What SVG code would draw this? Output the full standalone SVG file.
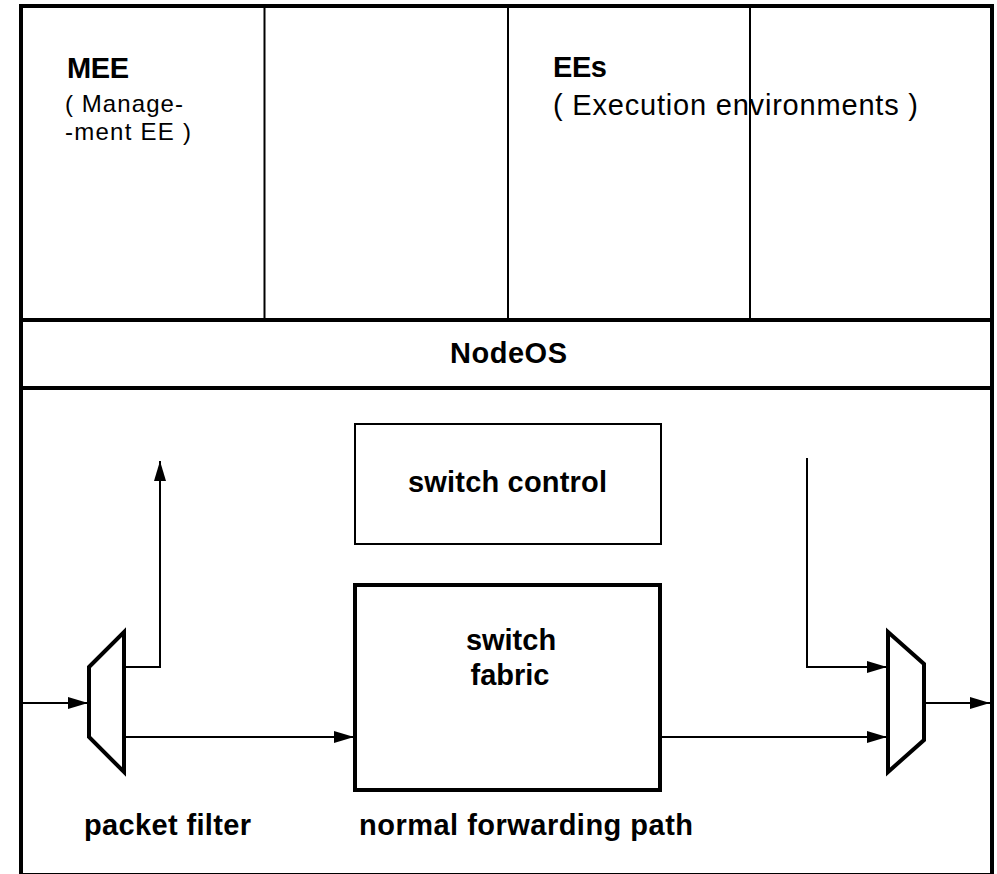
<svg xmlns="http://www.w3.org/2000/svg" width="997" height="874" viewBox="0 0 997 874">
<style>
.frame{fill:none;stroke:#000;stroke-width:4}
.thin{fill:none;stroke:#000;stroke-width:2}
.conn{fill:none;stroke:#000;stroke-width:2}
.b{font-family:"Liberation Sans",Arial,sans-serif;font-weight:bold;font-size:29px;fill:#000}
.r{font-family:"Liberation Sans",Arial,sans-serif;font-size:29px;fill:#000}
.s{font-family:"Liberation Sans",Arial,sans-serif;font-size:24px;fill:#000}
</style>
<defs>
<marker id="ah" markerUnits="userSpaceOnUse" markerWidth="22" markerHeight="16" refX="20" refY="7" orient="auto">
<path d="M0,1 L20,7 L0,13 Z" fill="#000"/>
</marker>
</defs>
<rect fill="#fff" x="0" y="0" width="997" height="874"/>
<g id="frame">
<rect class="frame" x="21" y="6" width="971" height="869"/>
<line class="frame" x1="21" y1="320" x2="992" y2="320"/>
<line class="frame" x1="21" y1="388" x2="992" y2="388"/>
<line class="thin" x1="264.5" y1="6" x2="264.5" y2="320"/>
<line class="thin" x1="508" y1="6" x2="508" y2="320"/>
<line class="thin" x1="750" y1="6" x2="750" y2="320"/>
</g>
<g id="mee">
<text class="b" x="67" y="78" textLength="62">MEE</text>
<text class="s" x="65" y="112" textLength="118">( Manage-</text>
<text class="s" x="65" y="140" textLength="126">-ment EE )</text>
</g>
<g id="ees">
<text class="b" x="553" y="77" textLength="54">EEs</text>
<text class="r" x="553" y="115" textLength="365">( Execution environments )</text>
</g>
<g id="nodeos">
<text class="b" x="450" y="363" textLength="117">NodeOS</text>
</g>
<g id="switch-control">
<rect class="thin" x="355" y="424" width="306" height="120"/>
<text class="b" x="408" y="492" textLength="199">switch control</text>
</g>
<g id="switch-fabric">
<rect class="frame" x="355" y="585" width="305" height="205"/>
<text class="b" x="511" y="650" text-anchor="middle">switch</text>
<text class="b" x="510" y="685" text-anchor="middle">fabric</text>
</g>
<g id="packet-filter">
<polygon class="frame" points="89,667 124,632 124,772 89,737"/>
<text class="b" x="84" y="835" textLength="167">packet filter</text>
</g>
<g id="output-mux">
<polygon class="frame" points="888,632 924,664 924,740 888,772"/>
</g>
<g id="forwarding-label">
<text class="b" x="359" y="835" textLength="334">normal forwarding path</text>
</g>
<g id="connectors">
<line class="conn" x1="21" y1="703" x2="88" y2="703" marker-end="url(#ah)"/>
<polyline class="conn" points="124,667 160,667 160,461" marker-end="url(#ah)"/>
<line class="conn" x1="124" y1="737" x2="354" y2="737" marker-end="url(#ah)"/>
<polyline class="conn" points="807,458 807,667 887,667" marker-end="url(#ah)"/>
<line class="conn" x1="660" y1="737" x2="887" y2="737" marker-end="url(#ah)"/>
<line class="conn" x1="924" y1="703" x2="990" y2="703" marker-end="url(#ah)"/>
</g>
</svg>
